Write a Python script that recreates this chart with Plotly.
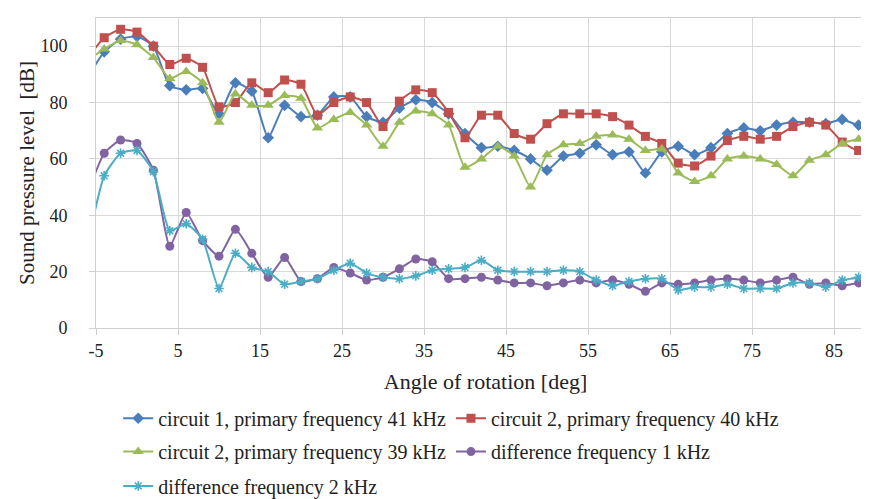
import plotly.graph_objects as go

angles = list(range(-6, 92, 2))

circuit1_41 = [89, 98, 102.5, 103.5, 100, 86, 84.5, 85, 76, 87, 84, 67.5, 79, 75,
               75.5, 82, 82, 75, 73, 78, 81, 80, 76, 69,
               64, 64.5, 63, 60, 56, 61, 62, 65, 61.5, 62.5,
               55, 62.5, 64.5, 61.5, 64, 69, 71, 70, 72, 73,
               73, 72.5, 74, 72, 74]

circuit2_40 = [96, 103, 106, 105, 100, 93.5, 95.7, 92.5, 78.5, 80, 87, 83.5, 88, 86.5,
               75.5, 80, 82, 80, 71.5, 80.5, 84.5, 83.5, 76.5, 67.5,
               75.5, 75.5, 69, 67, 72.5, 76, 76, 76, 75, 72,
               68, 65.5, 58.5, 57.5, 61, 66.5, 68, 67, 68, 71.5,
               73, 72, 66, 63, 69]

circuit2_39 = [95, 99, 102, 100.5, 96, 88.5, 91, 87, 73, 83, 79, 79, 82.5, 81.5,
               71, 74, 76.5, 72, 64.5, 73, 77, 76, 72, 57,
               60, 64.5, 61, 50, 61.5, 65, 65.5, 68, 68.5, 67,
               63, 63.5, 55, 52, 54, 60, 61, 60, 58, 54,
               59.5, 61.5, 65.5, 67, 67.5]

diff_1k = [48, 62, 66.7, 65.5, 56, 29, 41, 31, 25.5, 35, 26.5, 18, 25, 16.5,
           17.5, 21.5, 19.5, 17, 18, 21, 24.5, 23.5, 17.5, 17.5,
           18, 17, 16, 16, 15, 16, 17, 16, 17, 15.5,
           13, 16, 15.5, 16, 17, 17.5, 17, 16, 17, 18,
           15.5, 16, 15, 16, 17]

diff_2k = [30, 54, 62, 63, 55.5, 34.5, 37, 31.5, 14, 26.5, 21.5, 20, 15.5, 16.5,
           17.5, 20.5, 23, 19.5, 18, 17.5, 18.5, 20.5, 21, 21.5,
           24, 20.5, 20, 20, 20, 20.5, 20, 17, 15, 16.5,
           17.5, 17.5, 13.5, 14.5, 14.5, 15.5, 14, 14, 14, 16,
           16, 14.5, 17, 18, 21.5]

x_tickvals = [-5, 5, 15, 25, 35, 45, 55, 65, 75, 85]
x_ticktext = ["-5", "5", "15", "25", "35", "45", "55", "65", "75", "85"]
y_tickvals = [0, 20, 40, 60, 80, 100]

series = [
    ("circuit 1, primary frequency 41 kHz", circuit1_41, "#4a7ebb", "diamond", 9, "legend"),
    ("circuit 2, primary frequency 40 kHz", circuit2_40, "#c0504d", "square", 9, "legend"),
    ("circuit 2, primary frequency 39 kHz", circuit2_39, "#9bbb59", "triangle-up", 10, "legend2"),
    ("difference frequency 1 kHz", diff_1k, "#8064a2", "circle", 9, "legend2"),
    ("difference frequency 2 kHz", diff_2k, "#4bacc6", "asterisk-open", 8, "legend3"),
]

fig = go.Figure()
for name, vals, col, sym, sz, leg in series:
    marker = dict(symbol=sym, size=sz, color=col)
    if sym == "asterisk-open":
        marker["line"] = dict(color=col, width=1.6)
    fig.add_trace(go.Scatter(
        x=angles, y=vals, name=name, mode="lines+markers", legend=leg,
        line=dict(color=col, width=2, shape="spline", smoothing=0.5),
        marker=marker,
    ))

font_family = "Liberation Serif, Times New Roman, Times, DejaVu Serif, serif"
leg_font = dict(family=font_family, size=20, color="#222222")
plot_h = 499 - 10 - 173
leg_x = 0.0285


def row_y(px):
    return (326 - px) / plot_h


fig.update_layout(
    width=869, height=499,
    margin=dict(l=88, r=2, t=10, b=173),
    paper_bgcolor="white", plot_bgcolor="white",
    font=dict(family=font_family, size=18, color="#222222"),
    legend=dict(orientation="h", x=leg_x, xanchor="left", y=row_y(418), yanchor="middle",
                font=leg_font, bgcolor="rgba(0,0,0,0)"),
    legend2=dict(orientation="h", x=leg_x, xanchor="left", y=row_y(452), yanchor="middle",
                 font=leg_font, bgcolor="rgba(0,0,0,0)"),
    legend3=dict(orientation="h", x=leg_x, xanchor="left", y=row_y(487), yanchor="middle",
                 font=leg_font, bgcolor="rgba(0,0,0,0)"),
    showlegend=True,
)
fig.update_xaxes(
    range=[-5, 90], tickvals=x_tickvals, ticktext=x_ticktext,
    showgrid=True, gridcolor="#d9d9d9", gridwidth=1,
    showline=True, linecolor="#d0d0d0", mirror=True,
    ticks="outside", ticklen=6, tickcolor="#d0d0d0",
    tickfont=dict(family=font_family, size=18),
    title=dict(text="Angle of rotation [deg]", font=dict(family=font_family, size=22), standoff=14),
    zeroline=False, automargin=False,
)
fig.update_yaxes(
    range=[0, 110], tickvals=y_tickvals,
    showgrid=True, gridcolor="#d9d9d9", gridwidth=1,
    showline=True, linecolor="#d0d0d0", mirror=True,
    ticks="outside", ticklen=6, tickcolor="#d0d0d0",
    tickfont=dict(family=font_family, size=18), ticklabelstandoff=18,
    title=dict(text="Sound pressure level\u00a0 [dB]", font=dict(family=font_family, size=21), standoff=0),
    zeroline=False, automargin=False,
)

fig.write_html("out.html")
